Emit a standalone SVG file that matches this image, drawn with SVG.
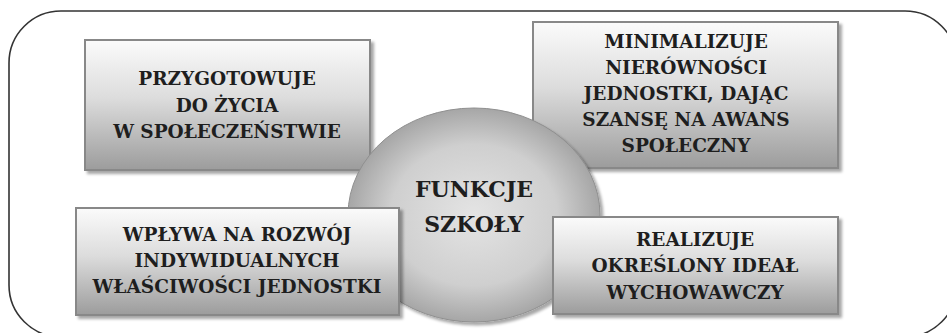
<svg xmlns="http://www.w3.org/2000/svg" width="947" height="333" viewBox="0 0 947 333">
<defs>
<linearGradient id="boxGrad" x1="0" y1="0" x2="0" y2="1">
<stop offset="0" stop-color="#fbfbfb"/>
<stop offset="0.45" stop-color="#dcdcdc"/>
<stop offset="1" stop-color="#9c9c9c"/>
</linearGradient>
<radialGradient id="circGrad" cx="0.5" cy="0.5" r="0.55">
<stop offset="0" stop-color="#e4e4e4"/>
<stop offset="0.6" stop-color="#cfcfcf"/>
<stop offset="1" stop-color="#9a9a9a"/>
</radialGradient>
<filter id="shadow" x="-10%" y="-10%" width="120%" height="130%">
<feGaussianBlur in="SourceAlpha" stdDeviation="1.5"/>
<feOffset dx="3" dy="3" result="b"/>
<feComponentTransfer><feFuncA type="linear" slope="0.35"/></feComponentTransfer>
<feMerge><feMergeNode/><feMergeNode in="SourceGraphic"/></feMerge>
</filter>
</defs>
<style>
.box{fill:url(#boxGrad);stroke:#888;stroke-width:2;filter:url(#shadow)}
.circ{fill:url(#circGrad);stroke:#8f8f8f;stroke-width:1;filter:url(#shadow)}
text{font-family:'DejaVu Serif',serif;font-weight:bold;font-size:18.5px;fill:#1e1e1e;text-anchor:middle}
.tc{font-size:22px}
.frame{fill:none;stroke:#333;stroke-width:1.6}
</style>
<rect class="frame" x="9" y="11" width="948" height="326" rx="52" ry="52"/>
<g id="connectors"/>
<g id="node-przygotowuje">
<rect class="box" x="85" y="40" width="285" height="130"/>
<text x="227" y="85">PRZYGOTOWUJE</text>
<text x="227" y="112">DO ŻYCIA</text>
<text x="227" y="138">W SPOŁECZEŃSTWIE</text>
</g>
<g id="node-minimalizuje">
<rect class="box" x="533" y="22" width="305" height="146"/>
<text x="686" y="48">MINIMALIZUJE</text>
<text x="686" y="74">NIERÓWNOŚCI</text>
<text x="686" y="100">JEDNOSTKI, DAJĄC</text>
<text x="686" y="126">SZANSĘ NA AWANS</text>
<text x="686" y="152">SPOŁECZNY</text>
</g>
<g id="node-funkcje">
<ellipse class="circ" cx="474" cy="215" rx="126" ry="107"/>
<text class="tc" x="474" y="197">FUNKCJE</text>
<text class="tc" x="474" y="232">SZKOŁY</text>
</g>
<g id="node-wplywa">
<rect class="box" x="76" y="208" width="323" height="107"/>
<text x="237" y="241">WPŁYWA NA ROZWÓJ</text>
<text x="237" y="267">INDYWIDUALNYCH</text>
<text x="237" y="293">WŁAŚCIWOŚCI JEDNOSTKI</text>
</g>
<g id="node-realizuje">
<rect class="box" x="553" y="217" width="285" height="97"/>
<text x="695" y="246">REALIZUJE</text>
<text x="695" y="272">OKREŚLONY IDEAŁ</text>
<text x="695" y="299">WYCHOWAWCZY</text>
</g>
</svg>
